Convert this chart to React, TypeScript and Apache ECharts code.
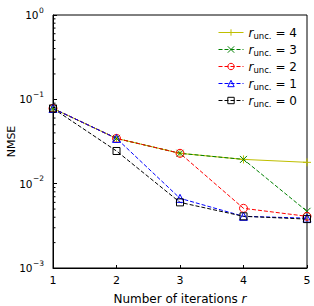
import React, { useEffect, useRef } from "react";
import * as echarts from "echarts";

const iterations = [1, 2, 3, 4, 5];
const nmseR4 = [0.078, 0.0344, 0.0229, 0.0194, 0.0179];
const nmseR3 = [0.078, 0.0344, 0.0229, 0.0194, 0.0047];
const nmseR2 = [0.078, 0.0344, 0.0229, 0.0051, 0.0041];
const nmseR1 = [0.078, 0.0344, 0.0067, 0.0041, 0.0039];
const nmseR0 = [0.078, 0.0244, 0.006, 0.0041, 0.0038];
const seriesLabels = ["4", "3", "2", "1", "0"];
const yTickValues = [1, 0.1, 0.01, 0.001];
const yTickExponents = ["0", "−1", "−2", "−3"];
const minorTickValues = [
  0.002, 0.003, 0.004, 0.005, 0.006, 0.007, 0.008, 0.009,
  0.02, 0.03, 0.04, 0.05, 0.06, 0.07, 0.08, 0.09,
  0.2, 0.3, 0.4, 0.5, 0.6, 0.7, 0.8, 0.9,
];

const FONT = "DejaVu Sans";

export default function App() {
  const ref = useRef<HTMLDivElement>(null);
  useEffect(() => {
    if (!ref.current) return;
    const chart = echarts.init(ref.current, null, { renderer: "svg" });
    const styles = [
      { color: "#bfbf00", symbol: "path://M5,0L5,10M0,5L10,5", size: 8, dashed: false },
      { color: "#008000", symbol: "path://M0,0L10,10M10,0L0,10", size: 7, dashed: true },
      { color: "#ff0000", symbol: "circle", size: 8, dashed: true },
      { color: "#0000ff", symbol: "triangle", size: 8, dashed: true },
      { color: "#000000", symbol: "rect", size: 7, dashed: true },
    ];
    const valuesList = [nmseR4, nmseR3, nmseR2, nmseR1, nmseR0];
    const series: any[] = seriesLabels.map((label, k) => {
      const s = styles[k];
      return {
        name: label,
        type: "line",
        data: iterations.map((x, i) => [x, valuesList[k][i]]),
        symbol: s.symbol,
        symbolSize: s.size,
        showSymbol: true,
        lineStyle: { color: s.color, width: 1, type: s.dashed ? [4, 2] : "solid" },
        itemStyle: { color: "none", borderColor: s.color, borderWidth: 1 },
        emphasis: { disabled: true },
        z: 2,
      };
    });
    series.push({
      type: "custom",
      name: "minor",
      silent: true,
      data: minorTickValues.map((v) => [1, v]),
      renderItem: (params: any, api: any) => {
        const p = api.coord([api.value(0), api.value(1)]);
        return {
          type: "line",
          shape: { x1: p[0], y1: p[1], x2: p[0] + 2.5, y2: p[1] },
          style: { stroke: "#000", lineWidth: 1 },
        };
      },
      z: 3,
    });
    series.push({
      type: "custom",
      name: "ylabels",
      silent: true,
      clip: false,
      data: yTickValues.map((v, i) => [1, v, i]),
      renderItem: (params: any, api: any) => {
        const p = api.coord([api.value(0), api.value(1)]);
        const exp = yTickExponents[api.value(2)];
        const supW = exp.length > 1 ? 11 : 5;
        const right = p[0] - 9;
        const supLeft = right - supW;
        return {
          type: "group",
          children: [
            {
              type: "text",
              x: supLeft - 0.5,
              y: p[1],
              style: {
                text: "10",
                fontFamily: FONT,
                fontSize: 10.5,
                fill: "#000",
                align: "right",
                verticalAlign: "middle",
              },
            },
            {
              type: "text",
              x: supLeft,
              y: p[1] - 5,
              style: {
                text: exp,
                fontFamily: FONT,
                fontSize: 7.5,
                fill: "#000",
                align: "left",
                verticalAlign: "middle",
              },
            },
          ],
        };
      },
      z: 3,
    });
    chart.setOption({
      animation: false,
      textStyle: { fontFamily: FONT },
      grid: {
        left: 53,
        top: 15,
        width: 254,
        height: 253,
        containLabel: false,
        outerBoundsMode: "none",
        show: true,
        borderColor: "#000",
        borderWidth: 1,
        backgroundColor: "transparent",
      },
      legend: {
        data: seriesLabels.map((label, k) => ({
          name: label,
          itemStyle: { color: "none", borderColor: styles[k].color, borderWidth: 1 },
          lineStyle: { color: styles[k].color, width: 1, type: styles[k].dashed ? [4, 2] : "solid" },
        })),
        orient: "vertical",
        left: 213,
        top: 21.5,
        itemWidth: 25,
        itemHeight: 8,
        itemGap: 3.5,
        formatter: (name: string) => `{i|r}{sub|unc.}{t| = ${name}}`,
        textStyle: {
          fontFamily: FONT,
          fontSize: 12,
          color: "#000",
          rich: {
            i: { fontStyle: "italic", fontSize: 12, fontFamily: FONT, color: "#000" },
            sub: { fontSize: 8.5, fontFamily: FONT, color: "#000", padding: [6, 0, 0, 0] },
            t: { fontSize: 12, fontFamily: FONT, color: "#000" },
          },
        },
      },
      xAxis: {
        type: "value",
        min: 1,
        max: 5,
        interval: 1,
        name: "Number of iterations {i|r}",
        nameLocation: "middle",
        nameGap: 25,
        nameMoveOverlap: false,
        nameTextStyle: {
          fontFamily: FONT,
          fontSize: 12,
          color: "#000",
          rich: { i: { fontStyle: "italic", fontSize: 12, fontFamily: FONT, color: "#000" } },
        },
        axisLine: { show: true, lineStyle: { color: "#000", width: 1 } },
        axisTick: { show: true, inside: true, length: 3, lineStyle: { color: "#000" } },
        axisLabel: { fontFamily: FONT, fontSize: 11, color: "#000", margin: 7 },
        splitLine: { show: false },
      },
      yAxis: {
        type: "log",
        logBase: 10,
        min: 0.001,
        max: 1,
        name: "NMSE",
        nameLocation: "middle",
        nameGap: 36,
        nameMoveOverlap: false,
        nameTextStyle: { fontFamily: FONT, fontSize: 11, color: "#000" },
        axisLine: { show: true, lineStyle: { color: "#000", width: 1 } },
        axisTick: { show: true, inside: true, length: 4, lineStyle: { color: "#000" } },
        axisLabel: { show: false },
        splitLine: { show: false },
      },
      series,
    });
    return () => chart.dispose();
  }, []);
  return (
    <div
      ref={ref}
      style={{ position: "fixed", left: 0, top: 0, width: 314, height: 306, background: "#fff" }}
    />
  );
}
